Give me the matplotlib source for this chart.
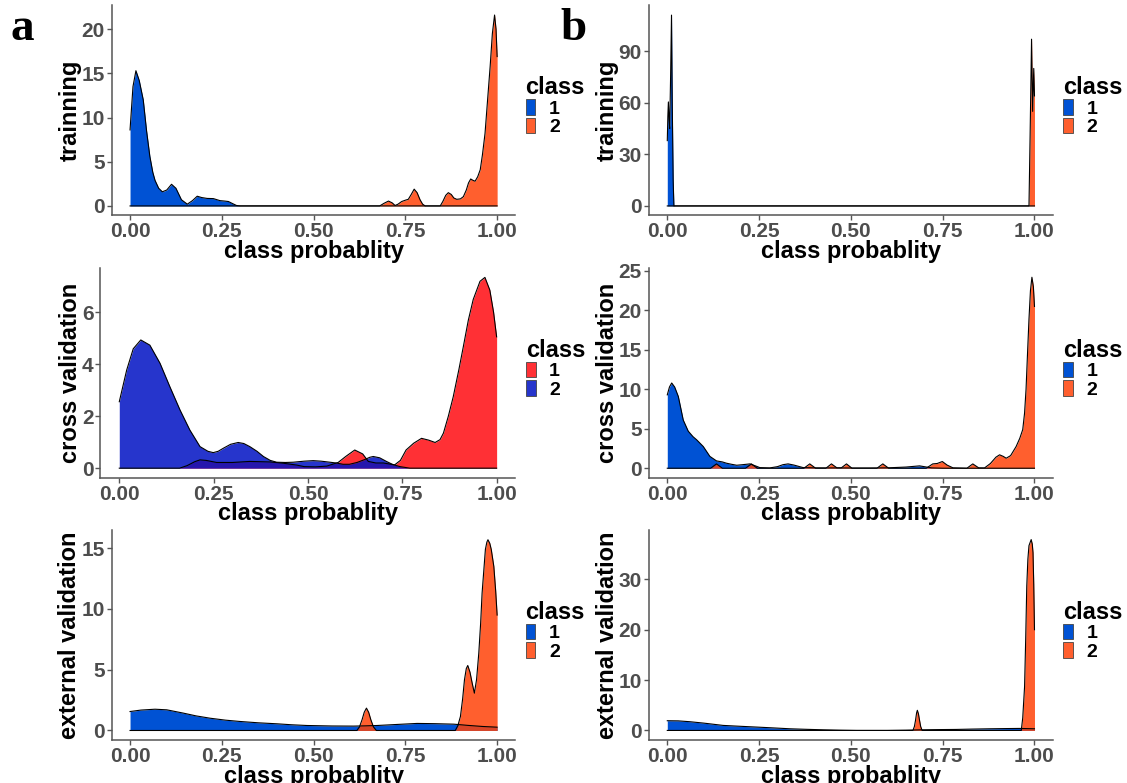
import numpy as np
import matplotlib.pyplot as plt
from matplotlib.patches import Patch

plt.rcParams['font.family'] = ['Liberation Sans', 'DejaVu Sans']
plt.rcParams['font.weight'] = 'bold'

# ---- data (x = class probability, y = density) ----
# a, training
a_train_x1 = [0, 0.008, 0.016, 0.025, 0.036, 0.045, 0.054, 0.062, 0.068, 0.078, 0.088, 0.1, 0.113,
              0.125, 0.14, 0.156, 0.17, 0.183, 0.195, 0.21, 0.227, 0.245, 0.258, 0.268, 0.28, 0.29, 0.30, 1.0]
a_train_y1 = [8.6, 13.5, 15.3, 14.2, 12.0, 8.5, 5.6, 3.8, 2.9, 2.0, 1.6, 1.8, 2.45,
              2.0, 0.7, 0.2, 0.6, 1.1, 0.95, 0.85, 0.83, 0.6, 0.55, 0.5, 0.25, 0.05, 0, 0]
a_train_x2 = [0, 0.68, 0.692, 0.704, 0.714, 0.722, 0.73, 0.74, 0.75, 0.758, 0.766, 0.774, 0.782, 0.79,
              0.797, 0.804, 0.845, 0.852, 0.86, 0.867, 0.875, 0.882, 0.89, 0.9, 0.908, 0.916, 0.922,
              0.928, 0.934, 0.94, 0.947, 0.954, 0.96, 0.967, 0.974, 0.981, 0.987, 0.993, 0.997, 1.0]
a_train_y2 = [0, 0, 0.3, 0.55, 0.35, 0.05, 0.2, 0.5, 0.65, 0.75, 1.3, 1.9, 1.5, 0.7,
              0.2, 0, 0, 0.5, 1.2, 1.5, 1.3, 0.9, 0.75, 0.8, 1.05, 1.8, 2.6,
              3.05, 2.9, 2.8, 3.3, 4.1, 5.8, 8.2, 12.0, 15.8, 19.5, 21.6, 20.0, 16.9]

# b, training
b_train_x1 = [0, 0.0015, 0.003, 0.005, 0.0065, 0.009, 0.0115, 0.0135, 0.016, 0.018, 1.0]
b_train_y1 = [38, 52, 60.5, 50, 45, 75, 111, 60, 15, 0, 0]
b_train_x2 = [0, 0.985, 0.988, 0.992, 0.995, 0.998, 1.0]
b_train_y2 = [0, 0, 40, 97, 55, 80, 64]

# a, cross validation
a_cv_x1 = [0, 0.16, 0.18, 0.2, 0.214, 0.23, 0.258, 0.3, 0.346, 0.4, 0.435, 0.47, 0.49, 0.52, 0.55,
           0.58, 0.6, 0.624, 0.645, 0.66, 0.68, 0.70, 0.72, 0.73, 0.745, 0.76, 0.78, 0.801, 0.82,
           0.837, 0.85, 0.859, 0.872, 0.885, 0.9, 0.912, 0.925, 0.938, 0.956, 0.969, 0.982, 0.992, 1.0]
a_cv_y1 = [0, 0, 0.1, 0.25, 0.32, 0.3, 0.22, 0.22, 0.26, 0.24, 0.19, 0.12, 0.06, 0.05, 0.08,
           0.22, 0.45, 0.7, 0.55, 0.26, 0.2, 0.2, 0.15, 0.13, 0.3, 0.7, 0.96, 1.15, 1.08,
           0.99, 1.1, 1.35, 2.0, 2.75, 3.8, 4.7, 5.7, 6.5, 7.2, 7.35, 6.86, 6.0, 5.06]
a_cv_x2 = [0, 0.0196, 0.037, 0.057, 0.081, 0.108, 0.134, 0.161, 0.187, 0.214, 0.235, 0.249, 0.262,
           0.276, 0.295, 0.315, 0.33, 0.346, 0.365, 0.382, 0.4, 0.417, 0.44, 0.461, 0.49, 0.514,
           0.535, 0.558, 0.575, 0.593, 0.61, 0.63, 0.65, 0.664, 0.673, 0.69, 0.708, 0.725, 0.744, 0.77, 1.0]
a_cv_y2 = [2.56, 3.78, 4.6, 4.94, 4.74, 4.04, 3.14, 2.24, 1.47, 0.83, 0.65, 0.6, 0.65,
           0.77, 0.92, 0.99, 0.95, 0.83, 0.65, 0.45, 0.3, 0.23, 0.22, 0.23, 0.27, 0.29,
           0.27, 0.23, 0.2, 0.15, 0.15, 0.22, 0.33, 0.42, 0.45, 0.4, 0.26, 0.14, 0.06, 0, 0]

# b, cross validation
b_cv_x1 = [0, 0.006, 0.012, 0.02, 0.03, 0.0435, 0.057, 0.07, 0.08, 0.098, 0.116, 0.134, 0.15, 0.161,
           0.175, 0.189, 0.205, 0.225, 0.24, 0.252, 0.279, 0.3, 0.315, 0.329, 0.345, 0.37, 0.4, 0.45,
           0.5, 0.55, 0.6, 0.65, 0.687, 0.72, 0.75, 1.0]
b_cv_y1 = [9.3, 10.3, 10.8, 10.3, 9.1, 6.1, 4.7, 4.0, 3.6, 2.75, 1.5, 0.93, 0.8, 0.64,
           0.5, 0.38, 0.45, 0.55, 0.3, 0.08, 0.04, 0.2, 0.45, 0.55, 0.4, 0.08, 0.05, 0.04,
           0.03, 0.03, 0.05, 0.15, 0.3, 0.04, 0, 0]
b_cv_x2 = [0, 0.118, 0.134, 0.15, 0.213, 0.229, 0.245, 0.372, 0.388, 0.404, 0.432, 0.447, 0.462,
           0.474, 0.488, 0.503, 0.571, 0.587, 0.603, 0.705, 0.723, 0.735, 0.749, 0.762, 0.778, 0.816,
           0.832, 0.848, 0.864, 0.88, 0.895, 0.905, 0.915, 0.923, 0.935, 0.95, 0.96, 0.968, 0.973,
           0.977, 0.981, 0.985, 0.989, 0.993, 0.997, 1.0]
b_cv_y2 = [0, 0, 0.55, 0, 0, 0.55, 0, 0, 0.55, 0, 0, 0.55, 0.05,
           0.05, 0.55, 0, 0, 0.55, 0, 0, 0.55, 0.6, 0.85, 0.4, 0.05, 0,
           0.55, 0.05, 0.04, 0.6, 1.4, 1.7, 1.5, 1.27, 1.6, 2.75, 3.8, 4.9, 7.0,
           10.0, 14.5, 18.9, 22.5, 24.2, 23.0, 20.5]

# a, external validation
a_ext_x1 = [0, 0.03, 0.068, 0.1, 0.145, 0.18, 0.218, 0.26, 0.3, 0.35, 0.4, 0.44, 0.482, 0.55,
            0.609, 0.64, 0.673, 0.73, 0.782, 0.83, 0.882, 0.92, 0.96, 1.0]
a_ext_y1 = [1.56, 1.68, 1.75, 1.7, 1.43, 1.2, 1.01, 0.85, 0.74, 0.63, 0.55, 0.47, 0.41, 0.37,
            0.36, 0.38, 0.41, 0.5, 0.58, 0.56, 0.52, 0.42, 0.33, 0.27]
a_ext_x2 = [0, 0.618, 0.625, 0.632, 0.638, 0.644, 0.65, 0.656, 0.663, 0.671, 0.886, 0.893, 0.9,
            0.906, 0.911, 0.916, 0.92, 0.926, 0.932, 0.938, 0.944, 0.95, 0.955, 0.959, 0.964,
            0.968, 0.972, 0.975, 0.98, 0.984, 0.991, 0.996, 1.0]
a_ext_y2 = [0, 0, 0.3, 0.88, 1.5, 1.84, 1.5, 0.88, 0.3, 0, 0, 0.4, 1.15,
            2.6, 4.17, 5.1, 5.35, 4.8, 3.9, 3.07, 4.2, 6.36, 8.8, 11.3, 13.3,
            14.9, 15.5, 15.7, 15.4, 14.9, 13.5, 11.5, 9.5]

# b, external validation
b_ext_x1 = [0, 0.03, 0.062, 0.1, 0.152, 0.2, 0.243, 0.29, 0.334, 0.38, 0.424, 0.47, 0.515, 0.6,
            0.65, 0.696, 0.74, 0.787, 0.83, 0.878, 0.92, 0.959, 1.0]
b_ext_y1 = [1.93, 1.9, 1.73, 1.45, 1.0, 0.82, 0.67, 0.5, 0.33, 0.22, 0.13, 0.05, 0, 0,
            0.05, 0.13, 0.17, 0.2, 0.27, 0.33, 0.37, 0.4, 0.33]
b_ext_x2 = [0, 0.669, 0.673, 0.676, 0.679, 0.681, 0.684, 0.687, 0.69, 0.694, 0.964, 0.968, 0.973,
            0.976, 0.979, 0.982, 0.985, 0.988, 0.991, 0.994, 0.996, 0.998, 1.0]
b_ext_y2 = [0, 0, 0.8, 2.0, 3.5, 4.0, 3.3, 2.0, 0.8, 0, 0, 2.5, 8.7,
            18, 28.7, 34, 36.7, 37.3, 37.9, 37, 35.3, 29, 20]

x_ticks = [0, 0.25, 0.5, 0.75, 1.0]
x_ticklabels = ['0.00', '0.25', '0.50', '0.75', '1.00']
class_labels = ['1', '2']

BLUE = '#0052D4'
ORANGE_BASE = (1.0, 67 / 255, 9 / 255)
ORANGE = '#FF5F2E'
RED = '#FF3035'
BLUE2_BASE = (0.0, 18 / 255, 195 / 255)
BLUE2 = '#2635CC'
TICK_COL = '#4D4D4D'


def panel(rect, x1, y1, x2, y2, ylabel, yticks, ylim, c1, c2_base, leg_cols):
    ax = fig.add_axes(rect)
    ax.fill_between(x1, 0, y1, color=c1, lw=0)
    ax.plot(x1, y1, color='black', lw=0.8)
    ax.fill_between(x2, 0, y2, color=c2_base, alpha=0.85, lw=0)
    ax.plot(x2, y2, color='black', lw=0.8)

    ax.set_xlim(-0.05, 1.05)
    ax.set_ylim(*ylim)
    ax.set_xticks(x_ticks)
    ax.set_xticklabels(x_ticklabels)
    ax.set_yticks(yticks)
    for s in ['top', 'right']:
        ax.spines[s].set_visible(False)
    for s in ['left', 'bottom']:
        ax.spines[s].set_color('#555555')
        ax.spines[s].set_linewidth(1.1)
    ax.tick_params(colors='#555555', labelcolor=TICK_COL, labelsize=15, length=3.5, width=1, pad=1.5)
    for t in ax.get_xticklabels() + ax.get_yticklabels():
        t.set_fontweight('bold')
    ax.set_xlabel('class probablity', fontsize=17, fontweight='bold', labelpad=-1)
    ax.set_ylabel(ylabel, fontsize=17, fontweight='bold', labelpad=0)

    handles = [Patch(facecolor=leg_cols[0], edgecolor='#444444', lw=0.6),
               Patch(facecolor=leg_cols[1], edgecolor='#444444', lw=0.6)]
    leg = ax.legend(handles, class_labels, title='class', loc='center left',
                    bbox_to_anchor=(1.025, 0.52), frameon=False, fontsize=14,
                    handlelength=0.5, handleheight=0.85, labelspacing=0.0,
                    handletextpad=0.7, borderpad=0, borderaxespad=0,
                    alignment='left',
                    title_fontproperties={'weight': 'bold', 'size': 17})
    for t in leg.get_texts():
        t.set_fontweight('bold')
    return ax


fig = plt.figure(figsize=(11.27, 7.83), dpi=100)

row_b = [0.7248, 0.3898, 0.0549]
row_h = 0.2682
a_rect = (0.0991, 0.3583)
a_rect_cv = (0.0891, 0.3683)
b_rect = (0.5758, 0.3584)

panel([a_rect[0], row_b[0], a_rect[1], row_h], a_train_x1, a_train_y1, a_train_x2, a_train_y2,
      'trainning', [0, 5, 10, 15, 20], (-1.08, 22.68), BLUE, ORANGE_BASE, [BLUE, ORANGE])
panel([b_rect[0], row_b[0], b_rect[1], row_h], b_train_x1, b_train_y1, b_train_x2, b_train_y2,
      'trainning', [0, 30, 60, 90], (-5.55, 116.6), BLUE, ORANGE_BASE, [BLUE, ORANGE])
panel([a_rect_cv[0], row_b[1], a_rect_cv[1], row_h], a_cv_x1, a_cv_y1, a_cv_x2, a_cv_y2,
      'cross validation', [0, 2, 4, 6], (-0.37, 7.72), RED, BLUE2_BASE, [RED, BLUE2])
panel([b_rect[0], row_b[1], b_rect[1], row_h], b_cv_x1, b_cv_y1, b_cv_x2, b_cv_y2,
      'cross validation', [0, 5, 10, 15, 20, 25], (-1.21, 25.4), BLUE, ORANGE_BASE, [BLUE, ORANGE])
panel([a_rect[0], row_b[2], a_rect[1], row_h], a_ext_x1, a_ext_y1, a_ext_x2, a_ext_y2,
      'external validation', [0, 5, 10, 15], (-0.785, 16.5), BLUE, ORANGE_BASE, [BLUE, ORANGE])
panel([b_rect[0], row_b[2], b_rect[1], row_h], b_ext_x1, b_ext_y1, b_ext_x2, b_ext_y2,
      'external validation', [0, 10, 20, 30], (-1.9, 39.8), BLUE, ORANGE_BASE, [BLUE, ORANGE])

fig.text(0.0089, 0.949, 'a', family=['Liberation Serif', 'DejaVu Serif'], fontweight='bold',
         fontsize=34, va='baseline', ha='left')
fig.text(0.497, 0.949, 'b', family=['Liberation Serif', 'DejaVu Serif'], fontweight='bold',
         fontsize=34, va='baseline', ha='left')

fig.savefig('out.png', dpi=100)
